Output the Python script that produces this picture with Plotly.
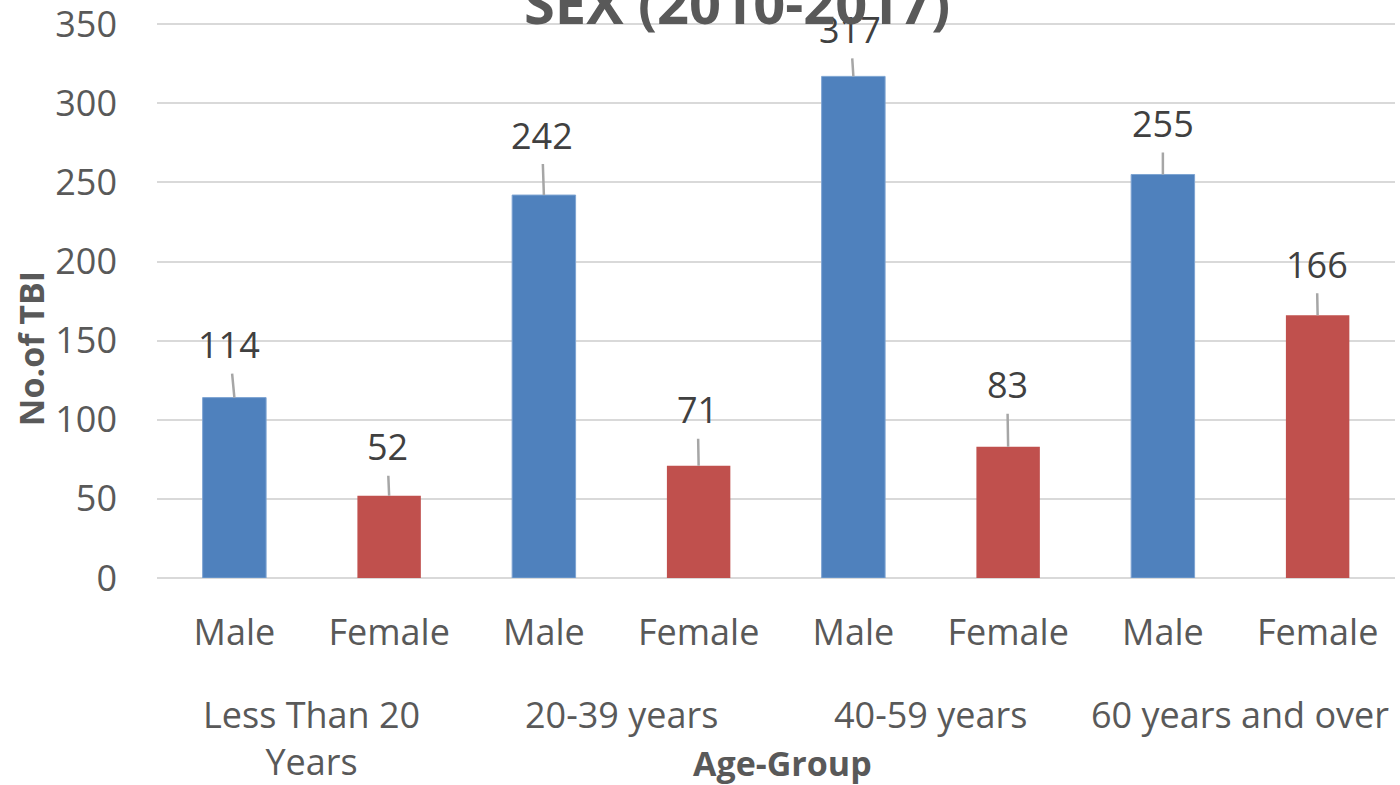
import plotly.graph_objects as go

# data
age_groups = ["Less Than 20<br>Years", "20-39 years", "40-59 years", "60 years and over"]
sexes = ["Male", "Female"]
male_tbi = [114, 242, 317, 255]
female_tbi = [52, 71, 83, 166]
y_ticks = [0, 50, 100, 150, 200, 250, 300, 350]

BLUE = "#4F81BD"
RED = "#C0504D"
GREY_TXT = "#595959"

# label placement (pixel offsets of each value label from the bar top)
male_lbl = [(-5, -53), (-2, -60), (-3, -47), (0, -51)]
female_lbl = [(-2, -49), (-1, -56), (-1, -62), (-1, -51)]

x_male = [2 * i for i in range(len(age_groups))]
x_female = [2 * i + 1 for i in range(len(age_groups))]

fig = go.Figure()
fig.add_trace(go.Bar(x=x_male, y=male_tbi, name="Male", width=0.41,
                     marker=dict(color=BLUE, line=dict(color="#7EA4D2", width=1))))
fig.add_trace(go.Bar(x=x_female, y=female_tbi, name="Female", width=0.41,
                     marker=dict(color=RED, line=dict(width=0))))

# value labels with leader lines
for xs, vals, offs in [(x_male, male_tbi, male_lbl), (x_female, female_tbi, female_lbl)]:
    for x, v, (dx, dy) in zip(xs, vals, offs):
        fig.add_annotation(x=x, y=v, text=str(v), showarrow=True, arrowhead=0,
                           arrowwidth=2.5, arrowcolor="#A6A6A6", ax=dx, ay=dy,
                           startstandoff=3,
                           font=dict(family="Open Sans", size=36, color="#404040"))

# group labels under the Male/Female ticks
for i, g in enumerate(age_groups):
    fig.add_annotation(x=2 * i + 0.5, xref="x", y=-0.197, yref="paper",
                       xanchor="center", yanchor="top",
                       text=g, showarrow=False,
                       font=dict(family="Open Sans", size=36, color=GREY_TXT))

fig.add_annotation(x=0.505, xref="paper", y=-0.332, yref="paper", text="<b>Age-Group</b>",
                   xanchor="center", yanchor="middle", showarrow=False,
                   font=dict(family="Open Sans", size=34, color=GREY_TXT))
fig.add_annotation(x=-0.102, xref="paper", y=0.412, yref="paper", text="<b>No.of TBI</b>",
                   xanchor="center", yanchor="middle", textangle=-90, showarrow=False,
                   font=dict(family="Open Sans", size=34, color=GREY_TXT))
fig.add_annotation(x=0.4685, xref="paper", y=1.035, yref="paper", text="<b>SEX (2010-2017)</b>",
                   xanchor="center", yanchor="middle", showarrow=False,
                   font=dict(family="Open Sans", size=56, color=GREY_TXT))

fig.update_layout(
    width=1400, height=785,
    margin=dict(l=157, r=5, t=21, b=207, autoexpand=False),
    plot_bgcolor="white", paper_bgcolor="white",
    barmode="overlay", showlegend=False,
    font=dict(family="Open Sans", color=GREY_TXT),
)
fig.update_xaxes(
    range=[-0.5, 7.5], automargin=False,
    tickvals=x_male + x_female,
    ticktext=[sexes[0]] * len(x_male) + [sexes[1]] * len(x_female),
    tickfont=dict(size=36, color=GREY_TXT),
    ticklabelstandoff=30,
    showgrid=False, showline=False, zeroline=False,
)
fig.update_yaxes(
    range=[0, 352], automargin=False, tickmode="array", tickvals=y_ticks,
    ticklabeloverflow="allow",
    tickfont=dict(size=36, color=GREY_TXT),
    ticklabelstandoff=39,
    showgrid=True, gridcolor="#D9D9D9", gridwidth=2,
    zeroline=True, zerolinecolor="#D9D9D9", zerolinewidth=2,
    showline=False,
)

fig.write_html("out.html", config={"displayModeBar": False},
               post_script="document.body.style.margin='0';")
